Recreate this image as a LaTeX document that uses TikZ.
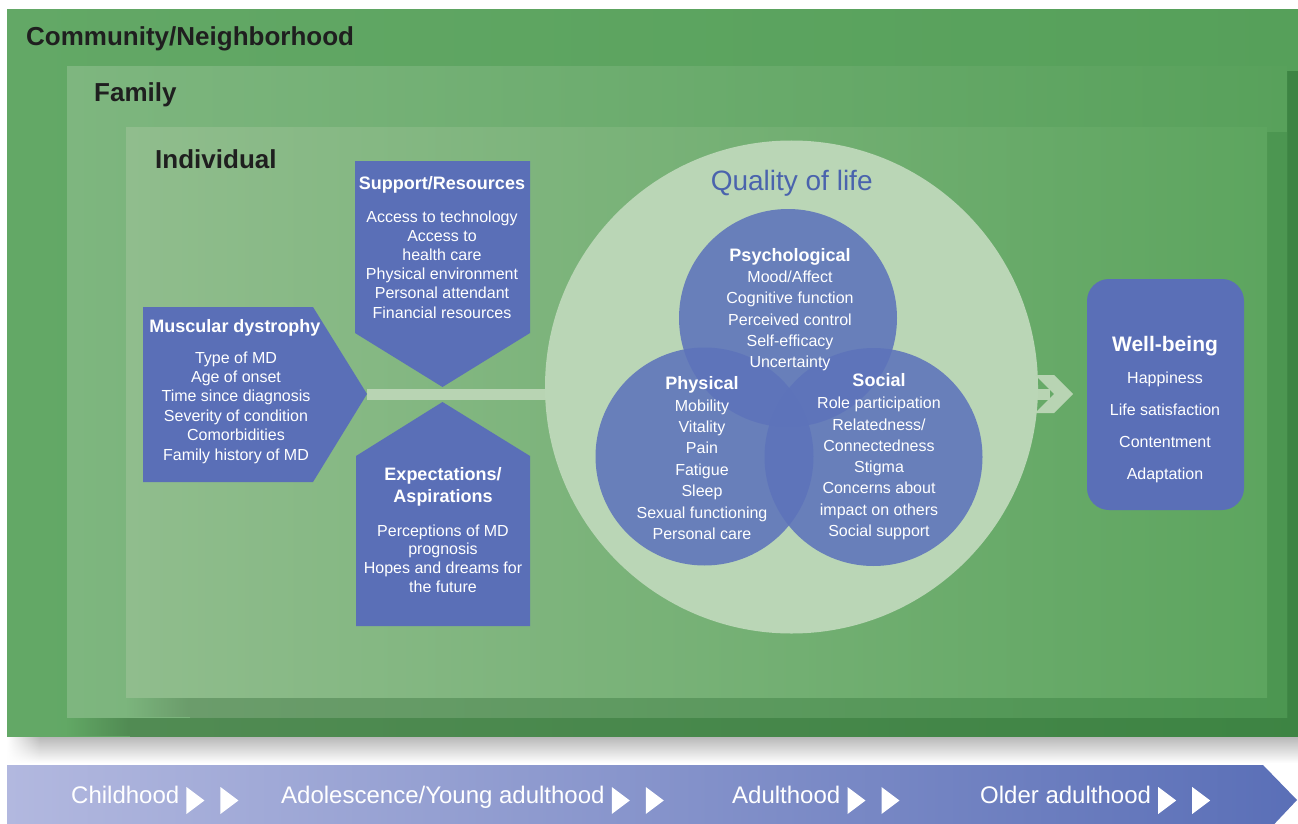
\documentclass[tikz,border=0pt]{standalone}
\usepackage{fontspec}
\setmainfont{Liberation Sans}
\usepackage{tikz}
\usetikzlibrary{fadings}

% colori
\definecolor{comA}{HTML}{63A866}
\definecolor{comB}{HTML}{56A05A}
\definecolor{famA}{HTML}{7EB67F}
\definecolor{famB}{HTML}{58A15B}
\definecolor{indA}{HTML}{90BD8D}
\definecolor{indB}{HTML}{5DA55F}
\definecolor{shFamA}{HTML}{518B53}
\definecolor{shFamB}{HTML}{3D8443}
\definecolor{shIndA}{HTML}{6B9C6B}
\definecolor{shIndB}{HTML}{4C9651}
\definecolor{shGrey}{HTML}{B6B6B6}
\definecolor{band}{HTML}{B8D4B3}
\definecolor{qolbg}{HTML}{BAD6B6}
\definecolor{boxblue}{HTML}{5A6FB7}
\definecolor{vennblue}{HTML}{5D73BB}
\definecolor{qolblue}{HTML}{4A63AD}
\definecolor{barA}{HTML}{B2B8DF}
\definecolor{barB}{HTML}{5A6FB7}
\definecolor{darktext}{HTML}{1F1F1F}

\tikzfading[name=fadein, left color=transparent!100, right color=transparent!0]

% i nodi su piu' righe sono ancorati alla linea di base dell'ultima riga
\tikzset{
    level/.style={font=\fontsize{26}{30}\selectfont\bfseries, text=darktext,
        anchor=base west, inner sep=0pt},
    heading/.style={font=\fontsize{18}{22.5}\selectfont\bfseries, text=white,
        anchor=base, inner sep=0pt, align=center},
    items/.style={font=\fontsize{16}{#1}\selectfont, text=white,
        anchor=base, inner sep=0pt, align=center},
    venn/.style={circle, fill=vennblue, fill opacity=0.88, inner sep=0pt,
        minimum size=218pt},
    stage/.style={font=\fontsize{24}{28}\selectfont, text=white,
        anchor=base west, inner sep=0pt},
    connector/.style={draw=band, line width=11pt}
}

\begin{document}
\begin{tikzpicture}[x=1pt, y=-1pt]

\useasboundingbox (0,0) rectangle (1298,824);
\fill[white] (0,0) rectangle (1298,824);

% ombra grigia
\shade[top color=shGrey, bottom color=white] (40,736) rectangle (1298,763);
\shade[top color=shGrey, bottom color=white, path fading=fadein] (7,736) rectangle (40,763);

% Comunita'
\shade[left color=comA, right color=comB] (7,10) rectangle (1298,736);

% Famiglia, con ombra
\shade[left color=shFamA, right color=shFamB] (130,72) rectangle (1310,736);
\fill[shFamA, path fading=fadein] (67,717) rectangle (130,736);
\shade[left color=famA, right color=famB] (67,67) rectangle (1287,717);

% Individuo, con ombra
\shade[left color=shIndA, right color=shIndB] (190,133) rectangle (1287,717);
\fill[shIndA, path fading=fadein] (126,697) rectangle (190,717);
\shade[left color=indA, right color=indB] (126,128) rectangle (1267,697);

% Etichette dei livelli
\node[level] (community) at (26,46) {Community/Neighborhood};
\node[level] (family) at (94,101.7) {Family};
\node[level] (individual) at (155,168.3) {Individual};

% Fascia di collegamento
\coordinate (mdtip) at (367,394);
\coordinate (arrowend) at (1050,394);
\draw[connector] (mdtip) -- (arrowend);

% Cerchio della qualita' di vita
\node[circle, fill=qolbg, inner sep=0pt, minimum size=493pt] (qol) at (791.5,387) {};
\node[font=\fontsize{28}{32}\selectfont, text=qolblue, anchor=base, inner sep=0pt]
    (qoltitle) at (791.7,190) {Quality of life};

% Punta della freccia
\fill[band] (1035,375) -- (1054,375) -- (1073,394) -- (1054,413)
    -- (1035,413) -- (1054,394) -- cycle;

% Blocchi blu
\fill[boxblue] (143,307) -- (313,307) -- (367,394) -- (313,482) -- (143,482) -- cycle;
\fill[boxblue] (355,161) -- (530,161) -- (530,333) -- (442.5,387) -- (355,333) -- cycle;
\fill[boxblue] (442.5,402) -- (530,456) -- (530,626) -- (356,626) -- (356,456) -- cycle;
\fill[boxblue, rounded corners=22pt] (1087,279) rectangle (1244,510);

\node[heading] (md) at (235,332) {Muscular dystrophy};
\node[items=19.4] (mdlist) at (236,460) {Type of MD\\Age of onset\\Time since diagnosis\\
    Severity of condition\\Comorbidities\\Family history of MD};

\node[heading] (support) at (442,189) {Support/Resources};
\node[items=19.2] (supportlist) at (442,318) {Access to technology\\Access to\\health care\\
    Physical environment\\Personal attendant\\Financial resources};

\node[heading] (expect) at (443,502.7) {Expectations/\\Aspirations};
\node[items=18.9] (expectlist) at (443,592.7) {Perceptions of MD\\prognosis\\
    Hopes and dreams for\\the future};

% Diagramma di Venn
\node[venn] (psych) at (788,318) {};
\node[venn] (phys) at (704.5,456.5) {};
\node[venn] (social) at (873.5,457) {};

\node[heading] (psychtitle) at (790,261.7) {Psychological};
\node[items=21.2] (psychlist) at (790,367.5) {Mood/Affect\\Cognitive function\\
    Perceived control\\Self-efficacy\\Uncertainty};

\node[heading] (phystitle) at (702,389.3) {Physical};
\node[items=21.4] (physlist) at (702,539.4) {Mobility\\Vitality\\Pain\\Fatigue\\Sleep\\
    Sexual functioning\\Personal care};

\node[heading] (socialtitle) at (879,386.7) {Social};
\node[items=21.3] (sociallist) at (879,536.5) {Role participation\\Relatedness/\\
    Connectedness\\Stigma\\Concerns about\\impact on others\\Social support};

% Benessere
\node[heading, font=\fontsize{21}{25}\selectfont\bfseries] (wellbeing) at (1165,351.7) {Well-being};
\node[items=32] (wellbeinglist) at (1165,479.3) {Happiness\\Life satisfaction\\
    Contentment\\Adaptation};

% Barra delle fasi di vita
\shade[left color=barA, right color=barB] (7,765) -- (1263,765) -- (1297,800)
    -- (1263,836) -- (7,836) -- cycle;

\foreach \name/\xpos/\label in {childhood/71/Childhood,
        adolescence/281/Adolescence\slash Young adulthood,
        adulthood/732/Adulthood, older/980/Older adulthood}{
    \node[stage] (\name) at (\xpos,803.3) {\label};
    \foreach \dx in {7,41}{
        \fill[white] ([shift={(\dx,-16.3)}]\name.base east)
            -- ([shift={(\dx+18,-2.8)}]\name.base east)
            -- ([shift={(\dx,10.7)}]\name.base east) -- cycle;
    }
}

\end{tikzpicture}
\end{document}
